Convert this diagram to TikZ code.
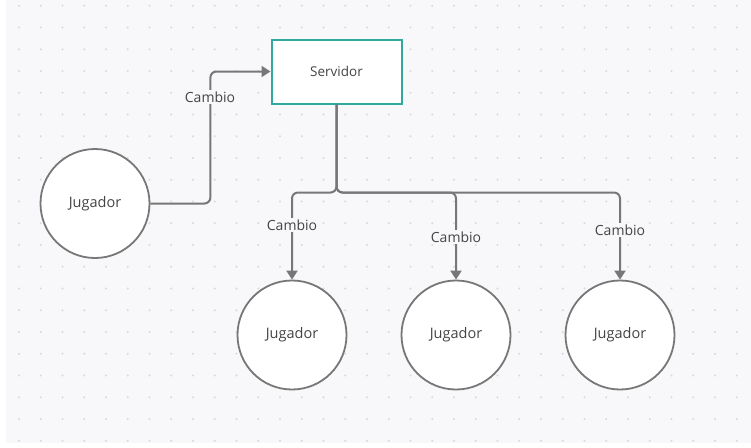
\documentclass[tikz,border=0pt]{standalone}
\usepackage{fontspec}
\setmainfont{Open Sans}
\usetikzlibrary{arrows.meta}
\definecolor{canvas}{HTML}{F8F8FA}
\definecolor{griddot}{HTML}{D9D9DE}
\definecolor{edgegray}{HTML}{777777}
\definecolor{srvteal}{HTML}{2FA89F}
\definecolor{ink}{HTML}{444444}
\tikzset{
  player/.style={circle, draw=edgegray, line width=1.8pt, fill=white, minimum size=109pt,
    inner sep=0pt, text=ink, font=\fontsize{14.5}{16}\selectfont},
  serverbox/.style={rectangle, draw=srvteal, line width=2pt, fill=white,
    minimum width=130pt, minimum height=64pt, inner sep=0pt, text=ink,
    font=\fontsize{13.5}{16}\selectfont},
  conn/.style={draw=edgegray, line width=2pt, rounded corners=6pt,
    -{Triangle[length=9pt,width=11pt]}},
  lbl/.style={fill=canvas, inner sep=2pt, text=ink, font=\fontsize{14}{16}\selectfont},
}
\begin{document}
\begin{tikzpicture}[x=1pt,y=-1pt]
  % page and dotted canvas
  \fill[white] (0,0) rectangle (751,447);
  \useasboundingbox (0,0) rectangle (751,447);
  \fill[canvas] (6,0) rectangle (751,443);
  \foreach \i in {0,...,33} {
    \foreach \j in {0,...,20} {
      \fill[griddot] (19+21.75*\i, 5.7+21.75*\j) circle (1.1pt);
    }
  }

  % nodes
  \node[serverbox] (srv) at (336.5,71.5) {Servidor};
  \node[player] (jl) at (95,203.5) {Jugador};
  \node[player] (j1) at (292,335) {Jugador};
  \node[player] (j2) at (456,335) {Jugador};
  \node[player] (j3) at (620,335) {Jugador};

  % connectors
  \draw[conn] (jl.east) -- ++(60,0) |- (srv.west);
  \draw[conn] (srv.south) -- ++(0,88) -| (j1.north);
  \draw[conn] (srv.south) -- ++(0,88) -| (j2.north);
  \draw[conn] (srv.south) -- ++(0,88) -| (j3.north);

  % connector labels
  \node[lbl] (l0) at (210,97) {Cambio};
  \node[lbl] (l1) at (292,225) {Cambio};
  \node[lbl] (l2) at (456,237) {Cambio};
  \node[lbl] (l3) at (620,230) {Cambio};
\end{tikzpicture}
\end{document}
